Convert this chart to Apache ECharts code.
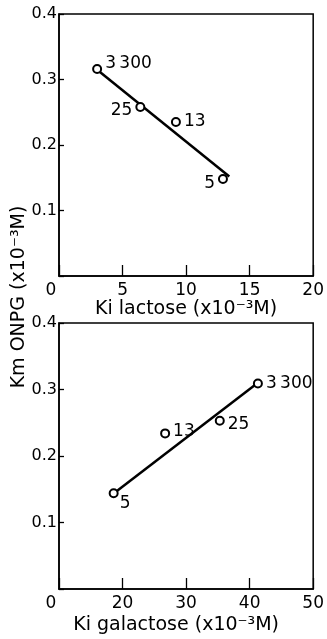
<!DOCTYPE html>
<html><head><meta charset="utf-8">
<script src="https://cdn.jsdelivr.net/npm/echarts@6/dist/echarts.min.js"></script>
<style>html,body{margin:0;padding:0;background:#fff}#c{width:327px;height:639px}</style>
</head><body><div id="c"></div>
<script>
// Top panel: Ki lactose vs Km ONPG
const lactoseX = [3.0, 6.4, 9.2, 12.9];
const lactoseY = [0.316, 0.258, 0.235, 0.148];
const lactoseLabels = ['3\u2009300', '25', '13', '5'];
const lactoseFitX = [3.0, 13.4];
const lactoseFitY = [0.315, 0.152];
// Bottom panel: Ki galactose vs Km ONPG
const galactoseX = [18.6, 26.7, 35.3, 41.3];
const galactoseY = [0.144, 0.234, 0.253, 0.309];
const galactoseLabels = ['5', '13', '25', '3\u2009300'];
const galactoseFitX = [18.8, 41.3];
const galactoseFitY = [0.145, 0.310];
// Tick labels
const yTicks = ['0.1', '0.2', '0.3', '0.4'];
const lactoseTicks = [0, 5, 10, 15, 20];
const galactoseTicks = ['0', '20', '30', '40', '50'];

const lactoseLabelPos = [['right', [0, -5]], ['left', [0, 4]], ['right', [0, 0]], ['left', [0, 5]]];
const galactoseLabelPos = [['right', [-2, 10]], ['right', [0, -2]], ['right', [0, 4]], ['right', [0, 0]]];

const FONT = 'DejaVu Sans';
const black = '#000';

function pts(xs, ys, labels, pos) {
  return xs.map((x, i) => ({
    value: [x, ys[i]],
    label: { show: true, formatter: labels[i], position: pos[i][0], offset: pos[i][1], distance: 3,
             color: black, fontFamily: FONT, fontSize: 17, textBorderWidth: 0 }
  }));
}

function xAxisFor(gi, min, max, interval, ticks, name, nameGap, namePad) {
  return {
    type: 'value', gridIndex: gi, min: min, max: max, interval: interval,
    name: name, nameLocation: 'middle', nameGap: nameGap,
    nameTextStyle: { fontFamily: FONT, fontSize: 19, color: black, padding: namePad },
    axisLine: { lineStyle: { color: black, width: 1.5 } },
    axisTick: { inside: true, length: 11, lineStyle: { color: black, width: 1.3 } },
    axisLabel: {
      margin: 6, fontFamily: FONT, fontSize: 17, color: black,
      formatter: v => {
        const idx = Math.round((v - min) / interval);
        const t = String(ticks[idx]);
        return idx === 0 ? '{o|' + t + '}' : t;
      },
      rich: { o: { fontFamily: FONT, fontSize: 17, color: black, padding: [0, 16, 0, 0] } }
    },
    splitLine: { show: false }
  };
}

function yAxisFor(gi) {
  return {
    type: 'value', gridIndex: gi, min: 0, max: 0.4, interval: 0.1,
    axisLine: { show: true, lineStyle: { color: black, width: 1.5 } },
    axisTick: { show: true, inside: true, length: 5, lineStyle: { color: black, width: 1.3 } },
    axisLabel: {
      margin: 2, fontFamily: FONT, fontSize: 16, color: black,
      formatter: v => { const i = Math.round(v * 10); return i === 0 ? '' : yTicks[i - 1]; }
    },
    splitLine: { show: false }
  };
}

const scatterStyle = {
  type: 'scatter', symbol: 'emptyCircle', symbolSize: 8,
  itemStyle: { color: black, borderColor: black, borderWidth: 1.4, opacity: 1 },
  emphasis: { disabled: true },
  z: 5
};
const lineStyle = {
  type: 'line', symbol: 'none', lineStyle: { color: black, width: 2.5 }, z: 3, silent: true
};

const chart = echarts.init(document.getElementById('c'));
chart.setOption({
  animation: false,
  backgroundColor: '#fff',
  grid: [
    { left: 59, top: 14, width: 260, height: 262, show: true, borderColor: black, borderWidth: 1.5, backgroundColor: 'transparent' },
    { left: 59, top: 323, width: 260, height: 266, show: true, borderColor: black, borderWidth: 1.5, backgroundColor: 'transparent' }
  ],
  xAxis: [
    xAxisFor(0, 0, 20, 5, lactoseTicks, 'Ki lactose (x10\u207B\u00B3M)', 21, [0, 0, 0, 0]),
    xAxisFor(1, 10, 50, 10, galactoseTicks, 'Ki galactose (x10\u207B\u00B3M)', 27, [0, 20, 0, 0])
  ],
  yAxis: [yAxisFor(0), yAxisFor(1)],
  graphic: [{
    type: 'text', x: 19, y: 297, rotation: Math.PI / 2,
    style: { text: 'Km ONPG (x10\u207B\u00B3M)', fontFamily: FONT, fontSize: 19, fill: black, textAlign: 'center', textVerticalAlign: 'middle' }
  }],
  series: [
    Object.assign({}, lineStyle, { xAxisIndex: 0, yAxisIndex: 0, data: lactoseFitX.map((x, i) => [x, lactoseFitY[i]]) }),
    Object.assign({}, scatterStyle, { xAxisIndex: 0, yAxisIndex: 0, data: pts(lactoseX, lactoseY, lactoseLabels, lactoseLabelPos) }),
    Object.assign({}, lineStyle, { xAxisIndex: 1, yAxisIndex: 1, data: galactoseFitX.map((x, i) => [x, galactoseFitY[i]]) }),
    Object.assign({}, scatterStyle, { xAxisIndex: 1, yAxisIndex: 1, data: pts(galactoseX, galactoseY, galactoseLabels, galactoseLabelPos) })
  ]
});
</script></body></html>
